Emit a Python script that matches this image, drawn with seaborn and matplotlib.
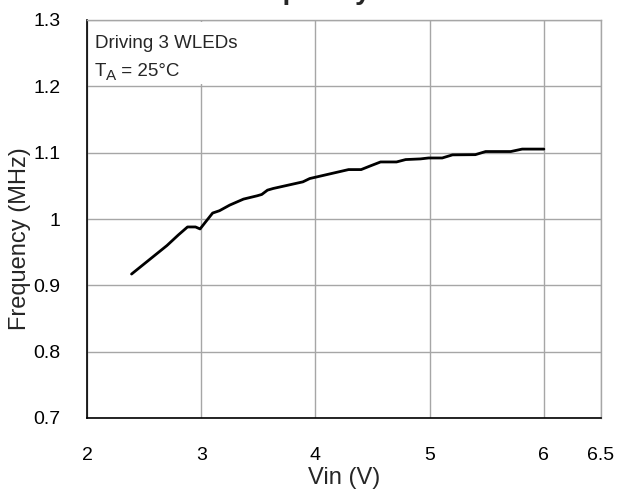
import matplotlib
matplotlib.use("Agg")
import matplotlib.pyplot as plt
import seaborn as sns
import pandas as pd

# Switching frequency vs input voltage, 3 WLEDs at 25 °C
vin = [2.39, 2.70, 2.80, 2.88, 2.95, 2.99, 3.04, 3.10, 3.16, 3.25, 3.37,
       3.49, 3.53, 3.58, 3.63, 3.89, 3.95, 4.29, 4.40, 4.48, 4.57, 4.71,
       4.79, 4.92, 4.99, 5.11, 5.20, 5.40, 5.49, 5.71, 5.81, 6.00]
freq = [0.917, 0.960, 0.976, 0.988, 0.988, 0.985, 0.996, 1.009, 1.0125,
        1.021, 1.030, 1.035, 1.037, 1.0435, 1.046, 1.056, 1.061, 1.0745,
        1.0745, 1.080, 1.086, 1.086, 1.0896, 1.0906, 1.092, 1.092, 1.0967,
        1.097, 1.1017, 1.1017, 1.1054, 1.1054]

x_ticks = [2, 3, 4, 5, 6, 6.5]
x_tick_labels = ["2", "3", "4", "5", "6", "6.5"]
y_ticks = [0.7, 0.8, 0.9, 1.0, 1.1, 1.2, 1.3]
y_tick_labels = ["0.7", "0.8", "0.9", "1", "1.1", "1.2", "1.3"]

df = pd.DataFrame({"Vin": vin, "Frequency": freq})

sns.set_theme(style="white")
plt.rcParams["font.family"] = ["Liberation Sans", "DejaVu Sans"]

W, H = 621, 493
fig = plt.figure(figsize=(W / 100, H / 100), dpi=100)
ax = fig.add_axes([87 / W, 1 - 418 / H, (601 - 87) / W, (418 - 20) / H])

sns.lineplot(data=df, x="Vin", y="Frequency", ax=ax, color="black",
             linewidth=2.0, sort=False, estimator=None)

ax.set_xlim(2, 6.5)
ax.set_ylim(0.7, 1.3)
ax.set_xticks(x_ticks)
ax.set_xticklabels(x_tick_labels)
ax.set_yticks(y_ticks)
ax.set_yticklabels(y_tick_labels)
ax.tick_params(axis="both", length=0, labelsize=14, colors="black")
ax.tick_params(axis="x", pad=21)
ax.tick_params(axis="y", pad=19)

ax.grid(True, color="#a6a6a6", linewidth=1.0)
ax.set_axisbelow(True)
for side in ["left", "bottom"]:
    ax.spines[side].set_color("black")
    ax.spines[side].set_linewidth(1.2)
for side in ["top", "right"]:
    ax.spines[side].set_color("#a6a6a6")
    ax.spines[side].set_linewidth(1.0)

ax.set_xlabel("Vin (V)", fontsize=17, labelpad=2)
ax.set_ylabel("Frequency (MHz)", fontsize=17)
ax.yaxis.set_label_coords(-0.108, 0.45)

# condition note in the upper-left corner (positions in figure pixels)
def fig_xy(px, py):
    return px / W, 1 - py / H

ax.add_patch(plt.Rectangle(fig_xy(89, 84), 150 / W, 62 / H,
                           transform=fig.transFigure, facecolor="white",
                           edgecolor="none", zorder=2))
ax.text(*fig_xy(95, 48), "Driving 3 WLEDs", transform=fig.transFigure,
        ha="left", va="baseline", fontsize=13.5, zorder=3)
t = ax.text(*fig_xy(95, 76), "T", transform=fig.transFigure,
            ha="left", va="baseline", fontsize=13.5, zorder=3)
fig.canvas.draw()
x_sub = t.get_window_extent().x1 / fig.bbox.width
s = ax.text(x_sub, fig_xy(0, 80)[1], "A", transform=fig.transFigure,
            ha="left", va="baseline", fontsize=11, zorder=3)
fig.canvas.draw()
x_rest = s.get_window_extent().x1 / fig.bbox.width
ax.text(x_rest, fig_xy(0, 76)[1], " = 25°C", transform=fig.transFigure,
        ha="left", va="baseline", fontsize=13.5, zorder=3)

fig.text(0.5587, 1 + 1 / H, "Frequency vs VIN", ha="center", va="baseline",
         fontsize=20, fontweight="bold")

fig.savefig("out.png", dpi=100)
